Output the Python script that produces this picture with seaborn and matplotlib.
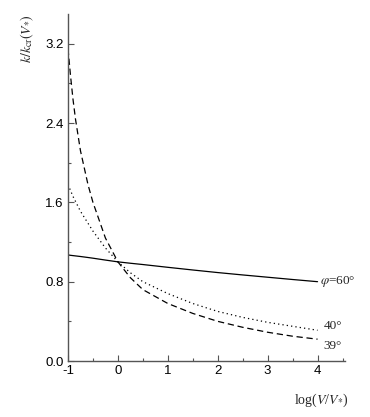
import numpy as np
import pandas as pd
import matplotlib
matplotlib.use("Agg")
import matplotlib.pyplot as plt
import seaborn as sns
from matplotlib.ticker import MultipleLocator

# Data
x_vals = [-1.0, -0.95, -0.9, -0.85, -0.75, -0.6, -0.5, -0.25, 0.0, 0.25, 0.5, 1.0, 1.5, 2.0, 2.5, 3.0, 3.5, 4.0]
phi60 = [1.07, 1.066, 1.063, 1.060, 1.054, 1.044, 1.037, 1.018, 1.0, 0.986, 0.973, 0.945, 0.918, 0.892, 0.868, 0.845, 0.822, 0.80]
phi40 = [1.78, 1.72, 1.66, 1.61, 1.51, 1.39, 1.31, 1.14, 1.0, 0.89, 0.80, 0.68, 0.58, 0.50, 0.44, 0.39, 0.35, 0.31]
phi39 = [3.15, 2.88, 2.64, 2.44, 2.12, 1.78, 1.60, 1.24, 1.0, 0.84, 0.72, 0.58, 0.48, 0.40, 0.34, 0.29, 0.25, 0.22]
labels = [r"$\varphi$=60°", "40°", "39°"]
x_ticks = [-1, 0, 1, 2, 3, 4]
y_ticks = [0.0, 0.8, 1.6, 2.4, 3.2]

df = pd.DataFrame({
    "x": x_vals * 3,
    "y": phi60 + phi40 + phi39,
    "series": [labels[0]] * len(x_vals) + [labels[1]] * len(x_vals) + [labels[2]] * len(x_vals),
})

sns.set_style("white")
plt.rcParams['font.family'] = ['Liberation Sans', 'DejaVu Sans']
plt.rcParams['mathtext.fontset'] = 'stix'

fig = plt.figure(figsize=(3.7, 4.17), dpi=100)
ax = fig.add_axes([68/370, 1-361/417, (345-68)/370, (361-14)/417])

styles = {labels[0]: dict(linestyle="-"),
          labels[1]: dict(linestyle=(0, (1, 2.5))),
          labels[2]: dict(linestyle=(0, (5, 3)))}
for s in labels:
    sub = df[df["series"] == s]
    sns.lineplot(data=sub, x="x", y="y", ax=ax, color="black", linewidth=0.9,
                 legend=False, **styles[s])

ax.set_xlim(-1, 4.55)
ax.set_ylim(0, 3.5)
ax.set_xticks(x_ticks)
ax.set_yticks(y_ticks)
ax.set_xticklabels([f"{t}" for t in x_ticks])
ax.set_yticklabels([f"{t:.1f}" for t in y_ticks])
ax.xaxis.set_minor_locator(MultipleLocator(0.5))
ax.yaxis.set_minor_locator(MultipleLocator(0.4))
ax.tick_params(axis="both", which="major", direction="in", length=4, width=0.8,
               labelsize=9.5, colors="#555555", labelcolor="black", pad=3)
ax.tick_params(axis="both", which="minor", direction="in", length=2.5, width=0.8,
               colors="#555555")
ax.tick_params(axis="both", which="both", bottom=True, left=True)
for side in ["top", "right"]:
    ax.spines[side].set_visible(False)
for side in ["left", "bottom"]:
    ax.spines[side].set_color("#555555")
    ax.spines[side].set_linewidth(1.0)
ax.set_xlabel("")
ax.set_ylabel("")

serif = ['Liberation Serif', 'DejaVu Serif']
end_x = x_vals[-1]
ax.text(end_x + 0.04, phi60[-1], labels[0], family=serif, fontsize=9.5, va="center", ha="left")
ax.text(end_x + 0.12, phi40[-1] + 0.04, labels[1], family=serif, fontsize=9.5, va="center", ha="left")
ax.text(end_x + 0.12, phi39[-1] - 0.07, labels[2], family=serif, fontsize=9.5, va="center", ha="left")

fig.text(27/370, 1-39/417, r"$k/k_{\mathrm{cr}}(V_{*})$", rotation=90, ha="center", va="center",
         fontsize=10, family=serif)
fig.text(321/370, 1-400/417, r"log($V$/$V_{*}$)", ha="center", va="center", fontsize=10, family=serif)

fig.savefig("out.png", dpi=100)
